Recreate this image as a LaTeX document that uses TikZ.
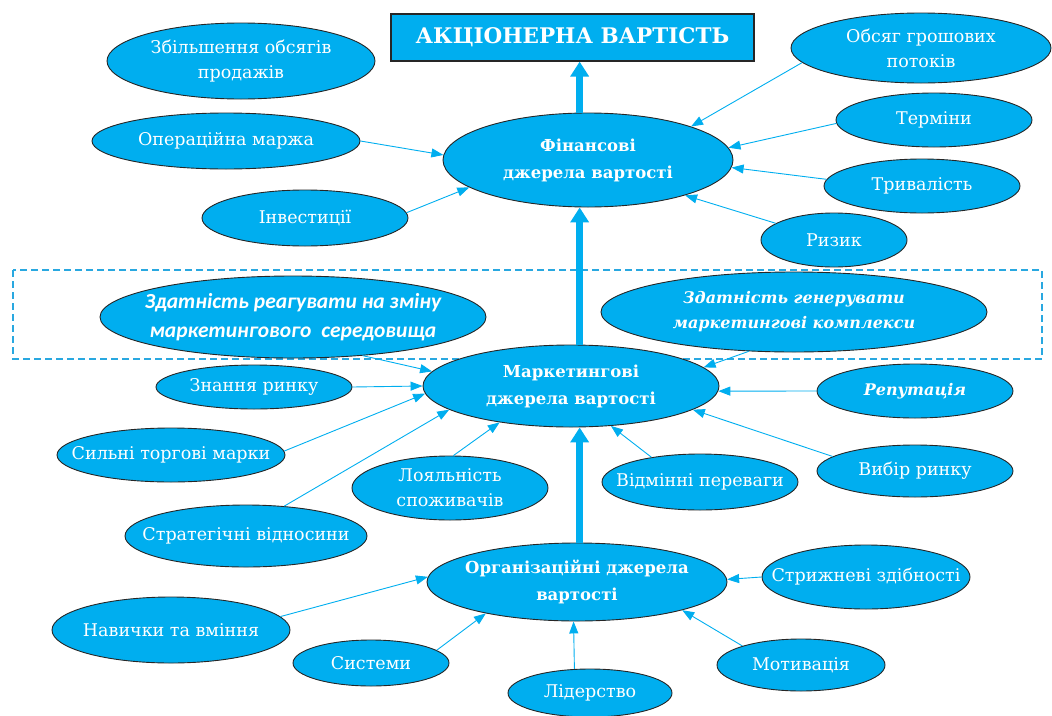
\documentclass[tikz,border=0pt]{standalone}
\usepackage{fontspec}
\setmainfont{DejaVu Serif}
\newfontfamily\carl{Carlito}
\usetikzlibrary{shapes.geometric,arrows.meta}
\definecolor{cy}{HTML}{00AEEF}
\definecolor{dashc}{HTML}{29A8E0}
\begin{document}
\begin{tikzpicture}[x=1pt,y=-1pt,
 bub/.style={ellipse, draw=black!85, line width=0.9pt, fill=cy, inner sep=0pt},
 lab/.style={text=white, font=\fontsize{17.5}{25}\selectfont, align=center},
 blab/.style={text=white, font=\fontsize{16.5}{27}\selectfont\bfseries, align=center},
 ilab/.style={text=white, font=\fontsize{16}{25}\selectfont\bfseries\itshape, align=center},
 conn/.style={draw=cy, line width=0.9pt, -{Triangle[length=12pt,width=9pt]}},
 big/.style={draw=cy, line width=7pt, -{Triangle[length=15pt,width=18pt]}},
 titlebox/.style={rectangle, draw=black!85, line width=1.2pt, fill=cy, text=white,
   font=\fontsize{21.5}{30}\selectfont\bfseries, inner sep=0pt},
 dashbox/.style={draw=dashc, line width=1.3pt, dash pattern=on 7pt off 4pt}
]
\useasboundingbox (0,0) rectangle (1052,715);

\draw[dashbox] (13,270) rectangle (1042,359);

% top
\node[titlebox, minimum width=363, minimum height=47] (ti) at (572.5,37.5) {АКЦІОНЕРНА ВАРТІСТЬ};
\node[bub, minimum width=290, minimum height=94, label={[blab]center:Фінансові\\джерела вартості}] (fin) at (588,160) {};
\node[bub, minimum width=268, minimum height=76, label={[lab]center:Збільшення обсягів\\продажів}] (zb) at (241,61) {};
\node[bub, minimum width=268, minimum height=56, label={[lab]center:Операційна маржа}] (om) at (226,141) {};
\node[bub, minimum width=206, minimum height=56, label={[lab]center:Інвестиції}] (inv) at (305,218) {};
\node[bub, minimum width=260, minimum height=70, label={[lab]center:Обсяг грошових\\потоків}] (ob) at (921,48) {};
\node[bub, minimum width=196, minimum height=54, label={[lab]center:Терміни}] (ter) at (934,120) {};
\node[bub, minimum width=196, minimum height=54, label={[lab]center:Тривалість}] (tr) at (922,186) {};
\node[bub, minimum width=146, minimum height=54, label={[lab]center:Ризик}] (riz) at (834,240) {};

% middle
\node[bub, minimum width=386, minimum height=82, label={[text=white, align=center, font=\carl\fontsize{21.5}{29}\selectfont\bfseries\itshape]center:Здатність реагувати на зміну\\маркетингового\ \ середовища}] (zr) at (293,317) {};
\node[bub, minimum width=386, minimum height=80, label={[ilab]center:Здатність генерувати\\маркетингові комплекси}] (zg) at (794,312) {};
\node[bub, minimum width=296, minimum height=82, label={[blab]center:Маркетингові\\джерела вартості}] (mk) at (571,386) {};
\node[bub, minimum width=196, minimum height=44, label={[lab]center:Знання ринку}] (zn) at (254,387) {};
\node[bub, minimum width=228, minimum height=54, label={[lab]center:Сильні торгові марки}] (sm) at (171,455) {};
\node[bub, minimum width=242, minimum height=62, label={[lab]center:Стратегічні відносини}] (st) at (246,536) {};
\node[bub, minimum width=196, minimum height=64, label={[lab]center:Лояльність\\споживачів}] (lo) at (450,488) {};
\node[bub, minimum width=196, minimum height=56, label={[lab]center:Відмінні переваги}] (vid) at (700,482) {};
\node[bub, minimum width=196, minimum height=54, label={[ilab]center:Репутація}] (rep) at (915,391) {};
\node[bub, minimum width=196, minimum height=52, label={[lab]center:Вибір ринку}] (vyb) at (915,471) {};

% bottom
\node[bub, minimum width=300, minimum height=78, label={[blab]center:Організаційні джерела\\вартості}] (org) at (577,582) {};
\node[bub, minimum width=208, minimum height=64, label={[lab]center:Стрижневі здібності}] (sz) at (866,577) {};
\node[bub, minimum width=238, minimum height=66, label={[lab]center:Навички та вміння}] (nav) at (171,630) {};
\node[bub, minimum width=156, minimum height=46, label={[lab]center:Системи}] (sys) at (371,663) {};
\node[bub, minimum width=164, minimum height=48, label={[lab]center:Лідерство}] (lid) at (590,693) {};
\node[bub, minimum width=168, minimum height=52, label={[lab]center:Мотивація}] (mot) at (801,665) {};

% thick arrows
\draw[big] (fin.100) -- (fin.100 |- ti.south);
\draw[big] (mk.north -| fin.100) -- (fin.south -| fin.100);
\draw[big] (org.north -| fin.100) -- (mk.south -| fin.100);

% financial connectors
\draw[conn] (om.east) -- (fin.178.8);
\draw[conn] (inv.3) -- (fin.193.3);
\draw[conn] (ob.187) -- (fin.18);
\draw[conn] (ter.182) -- (fin.5.3);
\draw[conn] (tr.176.5) -- (fin.357);
\draw[conn] (riz.164.4) -- (fin.340);

% marketing connectors
\draw[conn] (zr.331.5) -- (mk.174.6);
\draw[conn] (zg.221) -- (mk.8.9);
\draw[conn] (zn.east) -- (mk.180);
\draw[conn] (sm.2.5) -- (mk.183.4);
\draw[conn] (st.38) -- (mk.191.8);
\draw[conn] (lo.84.6) -- (mk.207.2);
\draw[conn] (vid.153.4) -- (mk.315);
\draw[conn] (rep.west) -- (mk.358.5);
\draw[conn] (vyb.170.4) -- (mk.349.2);

% organisational connectors
\draw[conn] (sz.west) -- (org.1.1);
\draw[conn] (nav.7.7) -- (org.178.5);
\draw[conn] (sys.11) -- (org.199.6);
\draw[conn] (lid.123.7) -- (org.265.6);
\draw[conn] (mot.162) -- (org.345);
\end{tikzpicture}
\end{document}
